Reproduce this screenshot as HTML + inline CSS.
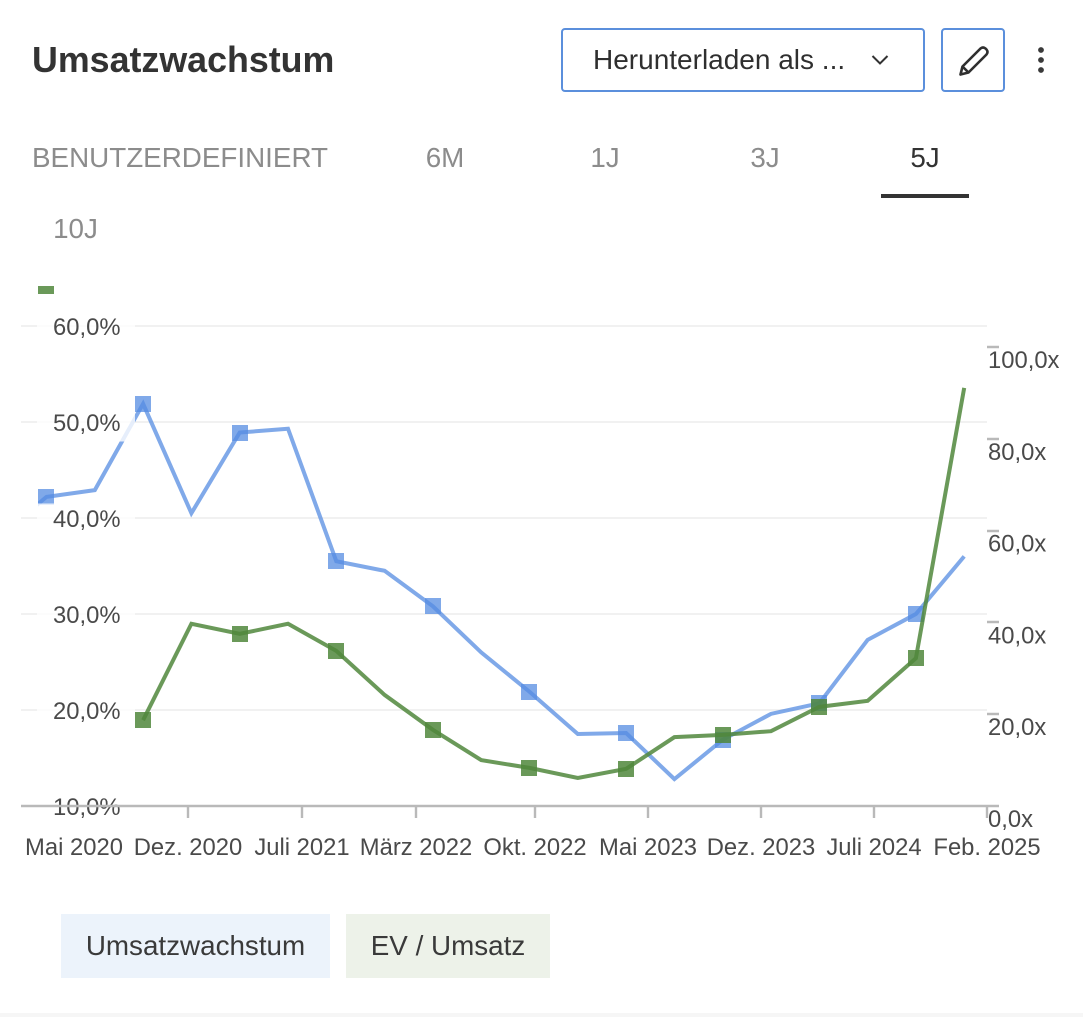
<!DOCTYPE html>
<html lang="de">
<head>
<meta charset="utf-8">
<title>Umsatzwachstum</title>
<style>
html,body{margin:0;padding:0;background:#fff;}
body{width:1083px;height:1017px;position:relative;overflow:hidden;font-family:"Liberation Sans",sans-serif;color:#333;}
.abs{position:absolute;white-space:nowrap;}
.tab{font-size:27.8px;line-height:32px;color:#8c8c8c;top:142px;transform:translateX(-50%);}
.btn{box-sizing:border-box;border:2px solid #5b8fdc;border-radius:4px;background:#fff;}
.legend{top:914px;height:64px;line-height:64px;font-size:27.8px;color:#3a3a3a;text-align:center;}
#chart{position:absolute;left:0;top:0;}
#chart text{font-family:"Liberation Sans",sans-serif;font-size:23.8px;fill:#4a4a4a;}
</style>
</head>
<body>
<div class="abs" style="left:32px;top:39px;font-size:35.8px;line-height:42px;font-weight:bold;color:#333;">Umsatzwachstum</div>

<div class="abs btn" style="left:561px;top:28px;width:364px;height:64px;">
  <span class="abs" style="left:30px;top:14px;font-size:28px;line-height:32px;color:#2f2f2f;">Herunterladen als ...</span>
  <svg class="abs" style="left:307px;top:24px;" width="20" height="12" viewBox="0 0 20 12"><path d="M2.5 2 L10 9.5 L17.5 2" fill="none" stroke="#333" stroke-width="2"/></svg>
</div>
<div class="abs btn" style="left:941px;top:28px;width:64px;height:64px;">
  <svg class="abs" style="left:14px;top:14px;" width="34" height="34" viewBox="0 0 34 34"><path d="M3.5 30.5 L5.5 22.5 L23.5 4.5 Q26 2.5 28.5 4.5 L29.5 5.5 Q31.5 8 29.5 10.5 L11.5 28.5 Z M5.5 22.5 L11.5 28.5" fill="none" stroke="#2f2f2f" stroke-width="2.6" stroke-linejoin="round"/></svg>
</div>
<svg class="abs" style="left:1033px;top:44px;" width="16" height="32" viewBox="0 0 16 32"><circle cx="8" cy="6" r="2.9" fill="#3a3a3a"/><circle cx="8" cy="16" r="2.9" fill="#3a3a3a"/><circle cx="8" cy="26" r="2.9" fill="#3a3a3a"/></svg>

<div class="abs tab" style="left:180px;">BENUTZERDEFINIERT</div>
<div class="abs tab" style="left:445px;">6M</div>
<div class="abs tab" style="left:605px;">1J</div>
<div class="abs tab" style="left:765px;">3J</div>
<div class="abs tab" style="left:925px;color:#333;">5J</div>
<div class="abs" style="left:881px;top:194px;width:88px;height:4px;background:#333;"></div>
<div class="abs tab" style="left:75.5px;top:213px;">10J</div>

<svg id="chart" width="1083" height="1017" viewBox="0 0 1083 1017"></svg>

<div class="abs legend" style="left:61px;width:269px;background:#ecf3fb;">Umsatzwachstum</div>
<div class="abs legend" style="left:346px;width:204px;background:#edf2e9;">EV / Umsatz</div>
<div class="abs" style="left:0;top:1013px;width:1083px;height:4px;background:#f6f6f6;"></div>

<script>
// Chart data. The first entry is a point before the visible window; the plot clip cuts it off.
const xLabels = ['Mai 2020','Dez. 2020','Juli 2021','März 2022','Okt. 2022','Mai 2023','Dez. 2023','Juli 2024','Feb. 2025'];
const leftTicks = [10,20,30,40,50,60];
const rightTicks = [0,20,40,60,80,100];
const revenueGrowth = [38.0,42.2,42.9,51.9,40.5,48.9,49.3,35.5,34.5,30.8,26.0,21.9,17.5,17.6,12.8,16.9,19.6,20.7,27.3,30.0,36.0];
const evSales = [null,113.3,null,18.7,39.7,37.5,39.7,33.8,24.2,16.6,10.0,8.3,6.1,8.1,15.0,15.5,16.3,21.6,22.9,32.2,91.1];

const NS = 'http://www.w3.org/2000/svg';
const svg = document.getElementById('chart');
const yLeft = v => 806 - (v - 10) * 9.6;
const yRight = v => 806 - v * 4.59;
const xPoint = i => -1.8 + 48.3 * i;
const xTick = i => i < 4 ? 74 + 114 * i : 535 + 113 * (i - 4);

function make(tag, attrs, parent) {
  const el = document.createElementNS(NS, tag);
  for (const k in attrs) el.setAttribute(k, attrs[k]);
  (parent || svg).appendChild(el);
  return el;
}

const defs = make('defs', {});
const clip = make('clipPath', {id: 'plot-clip'}, defs);
make('rect', {x: 38, y: 286, width: 960, height: 530}, clip);

// Gridlines
leftTicks.slice(1).forEach(t => {
  const g = make('line', {x1: 21, x2: 987, y1: yLeft(t), y2: yLeft(t), stroke: '#f1f1f1', 'stroke-width': 2});
  
  
});

// Series
function drawSeries(values, yFn, color, name) {
  const group = make('g', {'clip-path': 'url(#plot-clip)'});
  
  
  let run = [];
  const flush = () => {
    if (run.length > 1) {
      const line = make('polyline', {points: run.join(' '), fill: 'none', stroke: color, 'stroke-width': 4, 'stroke-linejoin': 'miter'}, group);
      
      
    }
    run = [];
  };
  values.forEach((v, i) => {
    if (v === null) { flush(); return; }
    run.push(xPoint(i) + ',' + yFn(v));
  });
  flush();
  values.forEach((v, i) => {
    if (v === null || i % 2 === 0) return;
    const m = make('rect', {x: Math.round(xPoint(i) - 0.1) - 8, y: Math.round(yFn(v)) - 8, width: 16, height: 16, fill: color}, group);
    
    
  });
}
drawSeries(revenueGrowth, yLeft, 'rgba(85,140,225,.75)', 'revenue-growth');
drawSeries(evSales, yRight, 'rgba(80,135,60,.85)', 'ev-sales');

// Left axis labels, each with its translucent plate over the plot
leftTicks.forEach(t => {
  if (t > 10) {
    const plate = make('rect', {x: 37, y: yLeft(t) - 14.5, width: 98, height: 34, fill: 'rgba(255,255,255,.8)'});
    
    
  }
  const label = make('text', {x: 53, y: yLeft(t) + 9});
  label.textContent = t + ',0%';
  
  
});

// Right axis
rightTicks.forEach(t => {
  if (t > 0) {
    const tick = make('line', {x1: 987, x2: 999, y1: Math.round(yRight(t)), y2: Math.round(yRight(t)), stroke: '#b9b9b9', 'stroke-width': 2.5});
    
    
  }
  const label = make('text', {x: 988, y: yRight(t) + 21});
  label.textContent = t + ',0x';
  
  
});

// X axis
const axis = make('line', {x1: 21, x2: 999, y1: 806, y2: 806, stroke: '#b9b9b9', 'stroke-width': 2.4});


xLabels.forEach((t, i) => {
  if (i > 0) {
    const tick = make('line', {x1: xTick(i), x2: xTick(i), y1: 806, y2: 818, stroke: '#b9b9b9', 'stroke-width': 2.4});
    
    
  }
  const label = make('text', {x: xTick(i), y: 855, 'text-anchor': 'middle'});
  label.textContent = t;
  
  
});
</script>
</body>
</html>
